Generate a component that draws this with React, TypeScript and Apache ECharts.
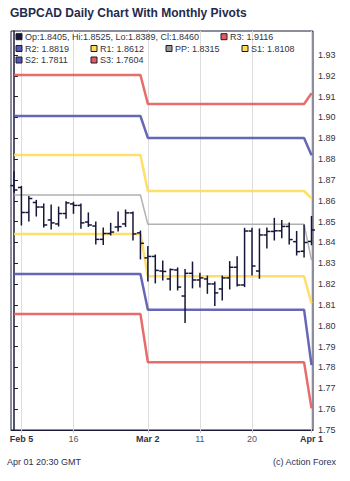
import React, { useEffect, useRef } from "react";
import * as echarts from "echarts";

// Trading days (2015), Feb 4 .. Apr 1
const dates = [
  "Feb 4", "Feb 5", "Feb 6", "Feb 9", "Feb 10", "Feb 11", "Feb 12", "Feb 13",
  "Feb 16", "Feb 17", "Feb 18", "Feb 19", "Feb 20", "Feb 23", "Feb 24", "Feb 25",
  "Feb 26", "Feb 27",
  "Mar 2", "Mar 3", "Mar 4", "Mar 5", "Mar 6", "Mar 9", "Mar 10", "Mar 11",
  "Mar 12", "Mar 13", "Mar 16", "Mar 17", "Mar 18", "Mar 19", "Mar 20", "Mar 23",
  "Mar 24", "Mar 25", "Mar 26", "Mar 27", "Mar 30", "Mar 31",
  "Apr 1",
];

const opens = [
  1.8673, 1.8664, 1.8544, 1.8592, 1.8570, 1.8508, 1.8489, 1.8539,
  1.8585, 1.8578, 1.8498, 1.8479, 1.8415, 1.8443, 1.8474, 1.8489,
  1.8542, 1.8446,
  1.8326, 1.8333, 1.8263, 1.8225, 1.8268, 1.8143, 1.8252, 1.8220,
  1.8225, 1.8201, 1.8177, 1.8230, 1.8281, 1.8196, 1.8455, 1.8263,
  1.8436, 1.8453, 1.8456, 1.8477, 1.8404, 1.8358,
  1.8405,
];
const highs = [
  1.8740, 1.8669, 1.8621, 1.8602, 1.8585, 1.8580, 1.8570, 1.8596,
  1.8593, 1.8585, 1.8542, 1.8498, 1.8470, 1.8492, 1.8546, 1.8556,
  1.8546, 1.8455,
  1.8381, 1.8340, 1.8311, 1.8273, 1.8278, 1.8270, 1.8306, 1.8252,
  1.8239, 1.8210, 1.8239, 1.8308, 1.8332, 1.8468, 1.8468, 1.8465,
  1.8470, 1.8516, 1.8506, 1.8494, 1.8453, 1.8484,
  1.8525,
];
const lows = [
  1.8642, 1.8484, 1.8503, 1.8527, 1.8474, 1.8465, 1.8479, 1.8516,
  1.8540, 1.8468, 1.8477, 1.8393, 1.8390, 1.8436, 1.8455, 1.8477,
  1.8412, 1.8321,
  1.8215, 1.8206, 1.8220, 1.8172, 1.8172, 1.8016, 1.8182, 1.8186,
  1.8156, 1.8098, 1.8124, 1.8177, 1.8191, 1.8188, 1.8244, 1.8228,
  1.8374, 1.8412, 1.8423, 1.8393, 1.8340, 1.8330,
  1.8389,
];
const closes = [
  1.8652, 1.8544, 1.8611, 1.8570, 1.8484, 1.8494, 1.8539, 1.8590,
  1.8578, 1.8494, 1.8484, 1.8415, 1.8443, 1.8450, 1.8476, 1.8542,
  1.8441, 1.8396,
  1.8333, 1.8266, 1.8261, 1.8270, 1.8186, 1.8252, 1.8220, 1.8230,
  1.8201, 1.8158, 1.8230, 1.8281, 1.8196, 1.8455, 1.8287, 1.8436,
  1.8453, 1.8456, 1.8477, 1.8414, 1.8356, 1.8400,
  1.8460,
];

// Monthly pivot levels: [February, March, April]
const r3 = [1.9204, 1.9065, 1.9116];
const r2 = [1.9007, 1.8902, 1.8819];
const r1 = [1.8820, 1.8647, 1.8612];
const pp = [1.8628, 1.8487, 1.8315];
const s1 = [1.8441, 1.8238, 1.8108];
const s2 = [1.8249, 1.8077, 1.7811];
const s3 = [1.8057, 1.7825, 1.7604];

// Index of the last trading day of each pivot month, first day of the next
const monthStarts = [0, 18, 40];

const xTickIndex = [1, 8, 18, 25, 32, 40];
const xTickLabels = ["Feb 5", "16", "Mar 2", "11", "20", "Apr 1"];
const yTicks = [
  1.75, 1.76, 1.77, 1.78, 1.79, 1.8, 1.81, 1.82, 1.83, 1.84,
  1.85, 1.86, 1.87, 1.88, 1.89, 1.9, 1.91, 1.92, 1.93,
];

const FONT = "'Liberation Sans', Arial, sans-serif";
const BAR_COLOR = "#161638";
const RED = "#e65c5c";
const BLUE = "#5656b0";
const YELLOW = "#ffdb5c";
const GRAY = "#a8a8a8";

function pivotLine(levels: number[]) {
  const last = dates.length - 1;
  return [
    [monthStarts[0], levels[0]],
    [monthStarts[1] - 1, levels[0]],
    [monthStarts[1], levels[1]],
    [last - 1, levels[1]],
    [last, levels[2]],
  ];
}

export default function App() {
  const ref = useRef<HTMLDivElement>(null);

  useEffect(() => {
    document.body.style.margin = "0";
    if (!ref.current) return;
    const chart = echarts.init(ref.current, undefined, { renderer: "svg" });

    const ohlc = dates.map((_, i) => [i, opens[i], highs[i], lows[i], closes[i]]);
    const last = dates.length - 1;
    const fmt = (v: number) => v.toFixed(4);

    const pivots = [
      { name: "R3", levels: r3, color: RED, width: 2.5 },
      { name: "R2", levels: r2, color: BLUE, width: 2.5 },
      { name: "R1", levels: r1, color: YELLOW, width: 2.5 },
      { name: "PP", levels: pp, color: GRAY, width: 1.5 },
      { name: "S1", levels: s1, color: YELLOW, width: 2.5 },
      { name: "S2", levels: s2, color: BLUE, width: 2.5 },
      { name: "S3", levels: s3, color: RED, width: 2.5 },
    ];

    const legendItems = [
      {
        text: `Op:${fmt(opens[last])}, Hi:${fmt(highs[last])}, Lo:${fmt(lows[last])}, Cl:${fmt(closes[last])}`,
        color: BAR_COLOR, x: 16, y: 36.7,
      },
      { text: `R3: ${fmt(r3[2])}`, color: RED, x: 221, y: 36.7 },
      { text: `R2: ${fmt(r2[2])}`, color: BLUE, x: 16, y: 48.5 },
      { text: `R1: ${fmt(r1[2])}`, color: YELLOW, x: 91, y: 48.5 },
      { text: `PP: ${fmt(pp[2])}`, color: "#999999", x: 166, y: 48.5 },
      { text: `S1: ${fmt(s1[2])}`, color: YELLOW, x: 242, y: 48.5 },
      { text: `S2: ${fmt(s2[2])}`, color: BLUE, x: 16, y: 60 },
      { text: `S3: ${fmt(s3[2])}`, color: RED, x: 91, y: 60 },
    ];

    const graphic: any[] = [];
    legendItems.forEach((it) => {
      graphic.push({
        type: "rect",
        shape: { x: it.x, y: it.y - 3, width: 6, height: 6 },
        style: { fill: it.color, stroke: "#1a1a2e", lineWidth: 1 },
        z: 100,
      });
      graphic.push({
        type: "text",
        x: it.x + 9,
        y: it.y,
        style: {
          text: it.text,
          fill: "#333340",
          font: `9px ${FONT}`,
          verticalAlign: "middle",
          align: "left",
        },
        z: 100,
      });
    });
    graphic.push({
      type: "text",
      x: 7,
      y: 462,
      style: { text: "Apr 01 20:30 GMT", fill: "#2c3050", font: `9px ${FONT}`, verticalAlign: "middle" },
    });
    graphic.push({
      type: "text",
      x: 336,
      y: 462,
      style: { text: "(c) Action Forex", fill: "#2c3050", font: `9px ${FONT}`, verticalAlign: "middle", align: "right" },
    });

    chart.setOption({
      animation: false,
      backgroundColor: "#ffffff",
      textStyle: { fontFamily: FONT },
      title: {
        text: "GBPCAD Daily Chart With Monthly Pivots",
        left: 10,
        top: 7,
        padding: 0,
        textStyle: { fontSize: 12, fontWeight: "bold", color: "#1f2a4d", fontFamily: FONT },
      },
      grid: {
        left: 11,
        right: 37,
        top: 31,
        bottom: 51,
        show: true,
        borderColor: "#1a1a3a",
        borderWidth: 1,
        backgroundColor: "transparent",
      },
      xAxis: {
        type: "value",
        min: -0.4,
        max: 40.2,
        axisLine: { show: true, lineStyle: { color: "#1a1a3a", width: 1 } },
        axisTick: { show: true, length: 3, customValues: xTickIndex, lineStyle: { color: "#cccccc" } },
        splitLine: { show: true, lineStyle: { color: "#dddddd", width: 1 } },
        axisLabel: {
          customValues: xTickIndex,
          margin: 4,
          formatter: (v: number) => {
            const idx = xTickIndex.indexOf(Math.round(v));
            if (idx < 0) return "";
            const t = xTickLabels[idx];
            return t.indexOf(" ") >= 0 ? `{b|${t}}` : `{n|${t}}`;
          },
          rich: {
            b: { fontSize: 9, fontWeight: "bold", color: "#333344", fontFamily: FONT },
            n: { fontSize: 9, color: "#555566", fontFamily: FONT },
          },
        },
      },
      yAxis: {
        type: "value",
        position: "right",
        min: 1.75,
        max: 1.9415,
        scale: true,
        axisLine: { show: true, lineStyle: { color: "#1a1a3a", width: 1.5 } },
        axisTick: { show: true, length: 4, customValues: yTicks, lineStyle: { color: "#1a1a3a" } },
        splitLine: { show: false },
        axisLabel: {
          customValues: yTicks,
          margin: 5,
          fontSize: 9,
          color: "#333344",
          fontFamily: FONT,
          formatter: (v: number) => v.toFixed(2),
        },
      },
      graphic,
      series: [
        ...pivots.map((p) => ({
          name: p.name,
          type: "line",
          data: pivotLine(p.levels),
          showSymbol: false,
          symbol: "none",
          color: p.color,
          lineStyle: { color: p.color, width: p.width, opacity: 0.9 },
          z: 2,
          silent: true,
        })),
        {
          name: "OHLC",
          type: "custom",
          clip: false,
          z: 5,
          data: ohlc,
          encode: { x: 0, y: [1, 2, 3, 4] },
          renderItem: (params: any, api: any) => {
            const x = api.value(0);
            const pO = api.coord([x, api.value(1)]);
            const pH = api.coord([x, api.value(2)]);
            const pL = api.coord([x, api.value(3)]);
            const pC = api.coord([x, api.value(4)]);
            const style = { stroke: BAR_COLOR, lineWidth: 1.5 };
            return {
              type: "group",
              children: [
                { type: "line", shape: { x1: pH[0], y1: pH[1] - 0.5, x2: pL[0], y2: pL[1] + 0.5 }, style },
                { type: "line", shape: { x1: pO[0] - 3.5, y1: pO[1], x2: pO[0], y2: pO[1] }, style },
                { type: "line", shape: { x1: pC[0], y1: pC[1], x2: pC[0] + 3.5, y2: pC[1] }, style },
              ],
            };
          },
        },
      ],
    });

    return () => chart.dispose();
  }, []);

  return <div ref={ref} style={{ width: 350, height: 481 }} />;
}
